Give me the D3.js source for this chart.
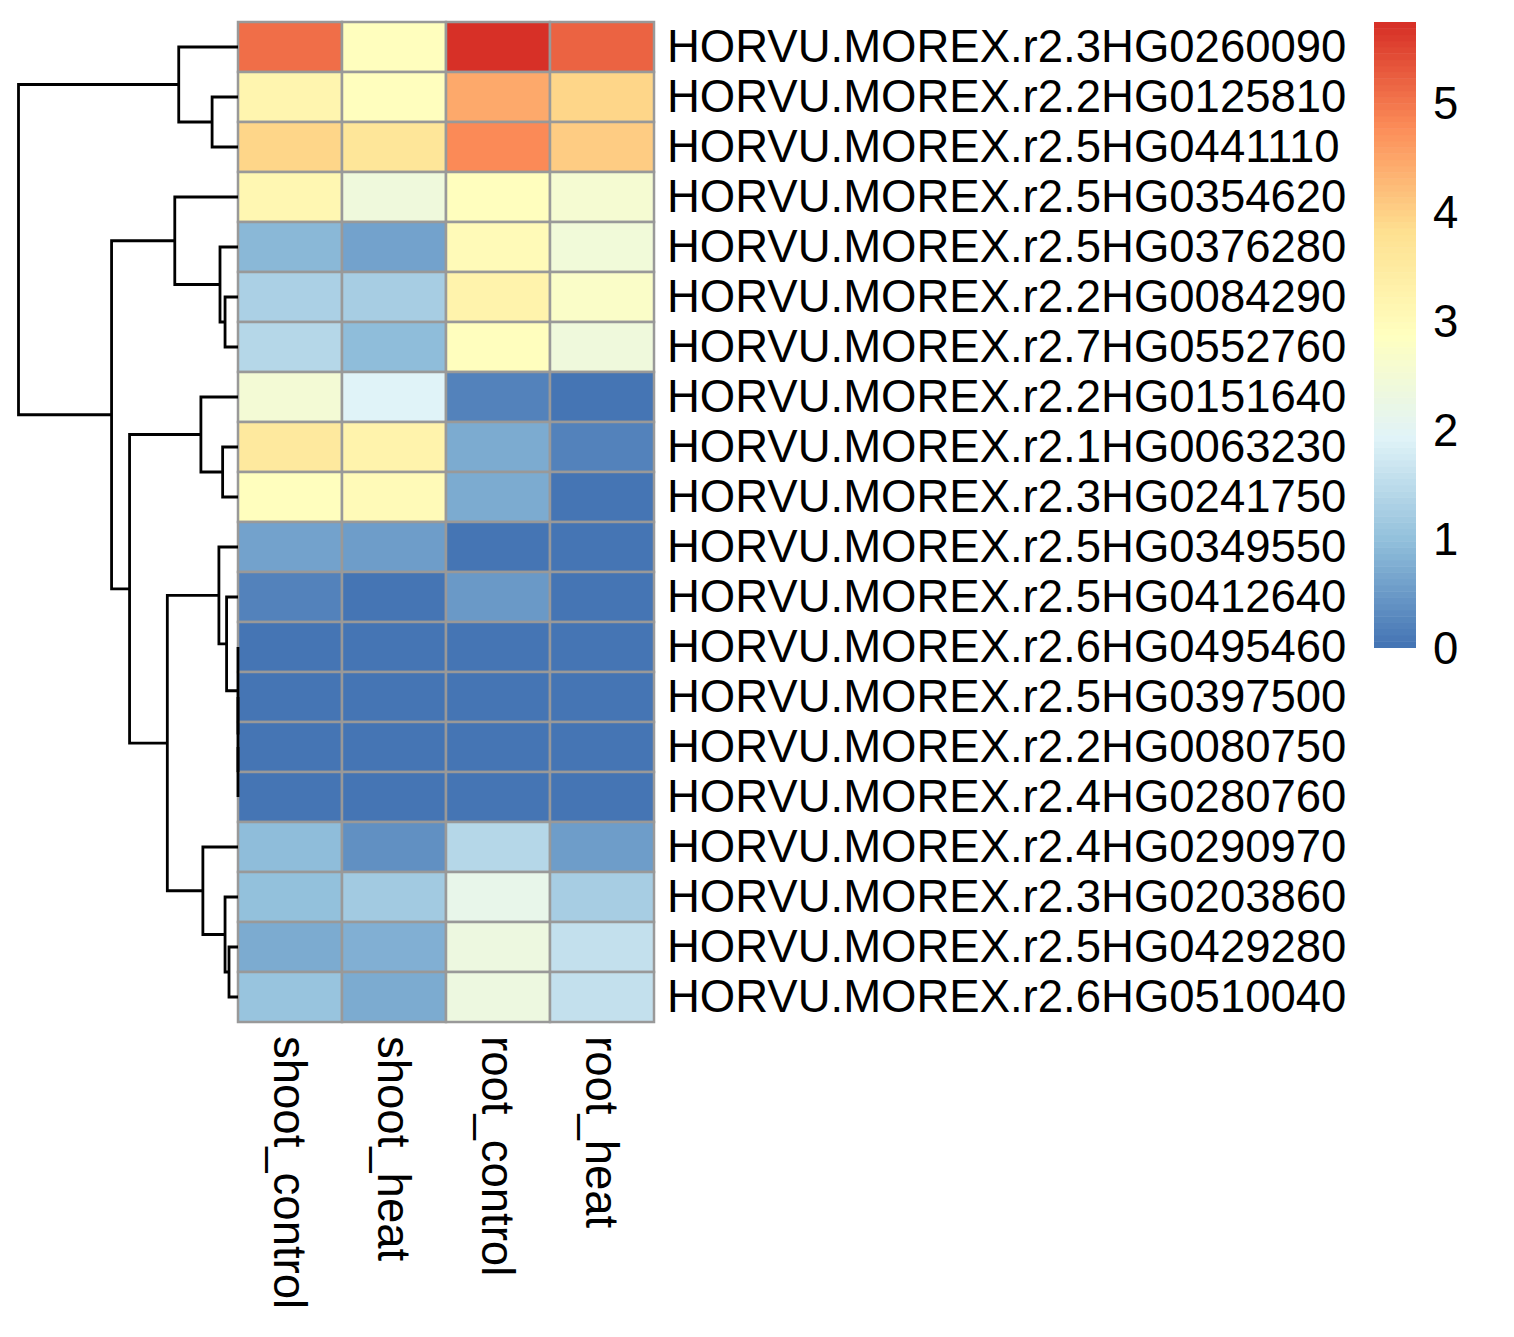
<!DOCTYPE html>
<html><head><meta charset="utf-8">
<script src="https://cdn.jsdelivr.net/npm/d3@7"></script>
<style>
body{margin:0;background:#fff}
text{font-family:"Liberation Sans",Arial,Helvetica,sans-serif;fill:#000}
</style>
</head><body>
<svg id="chart" width="1514" height="1337"></svg>
<script>
// ---------- data ----------
const columns = ["shoot_control", "shoot_heat", "root_control", "root_heat"];
const genes = [
  "HORVU.MOREX.r2.3HG0260090", "HORVU.MOREX.r2.2HG0125810", "HORVU.MOREX.r2.5HG0441110",
  "HORVU.MOREX.r2.5HG0354620", "HORVU.MOREX.r2.5HG0376280", "HORVU.MOREX.r2.2HG0084290",
  "HORVU.MOREX.r2.7HG0552760", "HORVU.MOREX.r2.2HG0151640", "HORVU.MOREX.r2.1HG0063230",
  "HORVU.MOREX.r2.3HG0241750", "HORVU.MOREX.r2.5HG0349550", "HORVU.MOREX.r2.5HG0412640",
  "HORVU.MOREX.r2.6HG0495460", "HORVU.MOREX.r2.5HG0397500", "HORVU.MOREX.r2.2HG0080750",
  "HORVU.MOREX.r2.4HG0280760", "HORVU.MOREX.r2.4HG0290970", "HORVU.MOREX.r2.3HG0203860",
  "HORVU.MOREX.r2.5HG0429280", "HORVU.MOREX.r2.6HG0510040"
];
const shootControl = [5.1, 3.17, 3.96, 3.12, 0.89, 1.27, 1.4, 2.52, 3.52, 2.9, 0.6, 0.2, 0, 0, 0, 0, 0.95, 0.99, 0.73, 1.05];
const shootHeat    = [2.87, 2.89, 3.62, 2.38, 0.6, 1.23, 0.97, 1.9, 3.25, 3.02, 0.55, 0.02, 0, 0, 0, 0, 0.4, 1.15, 0.8, 0.73];
const rootControl  = [5.74, 4.46, 4.8, 2.92, 3.02, 3.27, 2.92, 0.2, 0.69, 0.69, 0.02, 0.47, 0, 0, 0, 0, 1.39, 2.13, 2.3, 2.3];
const rootHeat     = [5.2, 3.96, 4.06, 2.58, 2.43, 2.72, 2.36, 0.0, 0.2, 0.01, 0.03, 0.03, 0, 0, 0, 0, 0.52, 1.25, 1.56, 1.56];
const legendTicks = [0, 1, 2, 3, 4, 5];
const valueMin = 0;
const valueMax = 5.74;
const paletteColors = ["#4575B4", "#91BFDB", "#E0F3F8", "#FFFFBF", "#FEE090", "#FC8D59", "#D73027"];
// row dendrogram merges: [left, right, height]; "Ln" = leaf n (display order), "Mn" = merge n (0-based)
const mergeLeft   = ["L14", "L13", "L12", "L11", "L10", "L18", "L17", "L16", "M4", "L8", "L7", "M10", "L5", "L4", "L3", "M14", "L1", "L0", "M17"];
const mergeRight  = ["L15", "M0", "M1", "M2", "M3", "L19", "M5", "M6", "M7", "L9", "M9", "M8", "L6", "M12", "M13", "M11", "L2", "M16", "M15"];
const mergeHeight = [0, 0, 0, 0.52, 0.87, 0.41, 0.59, 1.60, 3.22, 0.70, 1.69, 4.94, 0.59, 0.82, 2.88, 5.76, 1.18, 2.70, 10.0];

// ---------- scales ----------
const svg = d3.select("#chart");
const x = d3.scaleBand().domain(columns).range([238, 654]);
const y = d3.scaleBand().domain(genes).range([22, 1022]);
const treeX = d3.scaleLinear().domain([0, d3.max(mergeHeight)]).range([238, 18.5]);

const ramp = d3.scaleLinear()
  .domain(paletteColors.map((c, i) => i / (paletteColors.length - 1)))
  .range(paletteColors)
  .interpolate(d3.interpolateRgb);
const nBins = 100;
const binColors = d3.range(nBins).map(i => ramp(i / (nBins - 1)));
const breaks = d3.range(nBins + 1).map(i => valueMin + (valueMax - valueMin) * i / nBins);
const binScale = d3.scaleQuantize().domain([valueMin, valueMax]).range(binColors);
const colorOf = v => v >= valueMax ? binColors[nBins - 1] : binScale(v);

// ---------- heatmap ----------
const seriesByCol = {shoot_control: shootControl, shoot_heat: shootHeat, root_control: rootControl, root_heat: rootHeat};
const cells = [];
genes.forEach((g, r) => columns.forEach(c => cells.push({g, c, v: seriesByCol[c][r]})));

svg.append("g").selectAll("rect").data(cells).join("rect")
  .attr("x", d => x(d.c))
  .attr("y", d => y(d.g))
  .attr("width", x.bandwidth())
  .attr("height", y.bandwidth())
  .attr("fill", d => colorOf(d.v))
  .attr("stroke", "#999999")
  .attr("stroke-width", 2.5);

// ---------- row labels ----------
svg.append("g").selectAll("text").data(genes).join("text")
  .attr("x", 667)
  .attr("y", d => y(d) + y.bandwidth() / 2 + 15)
  .attr("font-size", 45.5)
  .text(d => d);

// ---------- column labels ----------
svg.append("g").selectAll("text").data(columns).join("text")
  .attr("transform", d => `translate(${x(d) + x.bandwidth() / 2 - 16},1036) rotate(90)`)
  .attr("font-size", 45.5)
  .text(d => d);

// ---------- dendrogram ----------
const nodePos = {};
genes.forEach((g, i) => { nodePos["L" + i] = {y: y(g) + y.bandwidth() / 2, h: 0}; });
const paths = [];
mergeLeft.forEach((l, i) => {
  const a = nodePos[l], b = nodePos[mergeRight[i]], h = mergeHeight[i];
  nodePos["M" + i] = {y: (a.y + b.y) / 2, h};
  paths.push([[treeX(a.h), a.y], [treeX(h), a.y], [treeX(h), b.y], [treeX(b.h), b.y]]);
});
svg.append("g").selectAll("path").data(paths).join("path")
  .attr("d", d3.line())
  .attr("fill", "none")
  .attr("stroke", "#000")
  .attr("stroke-width", 2.8);

// ---------- legend ----------
const legendY = d3.scaleLinear().domain([valueMin, valueMax]).range([647.5, 22]);
const lg = svg.append("g");
lg.selectAll("rect").data(binColors).join("rect")
  .attr("x", 1374)
  .attr("width", 42)
  .attr("y", (d, i) => legendY(breaks[i + 1]))
  .attr("height", (d, i) => legendY(breaks[i]) - legendY(breaks[i + 1]) + 0.5)
  .attr("fill", d => d);
lg.selectAll("text").data(legendTicks).join("text")
  .attr("x", 1433)
  .attr("y", d => legendY(d) + 16)
  .attr("font-size", 45.5)
  .text(d => d);
</script>
</body></html>
